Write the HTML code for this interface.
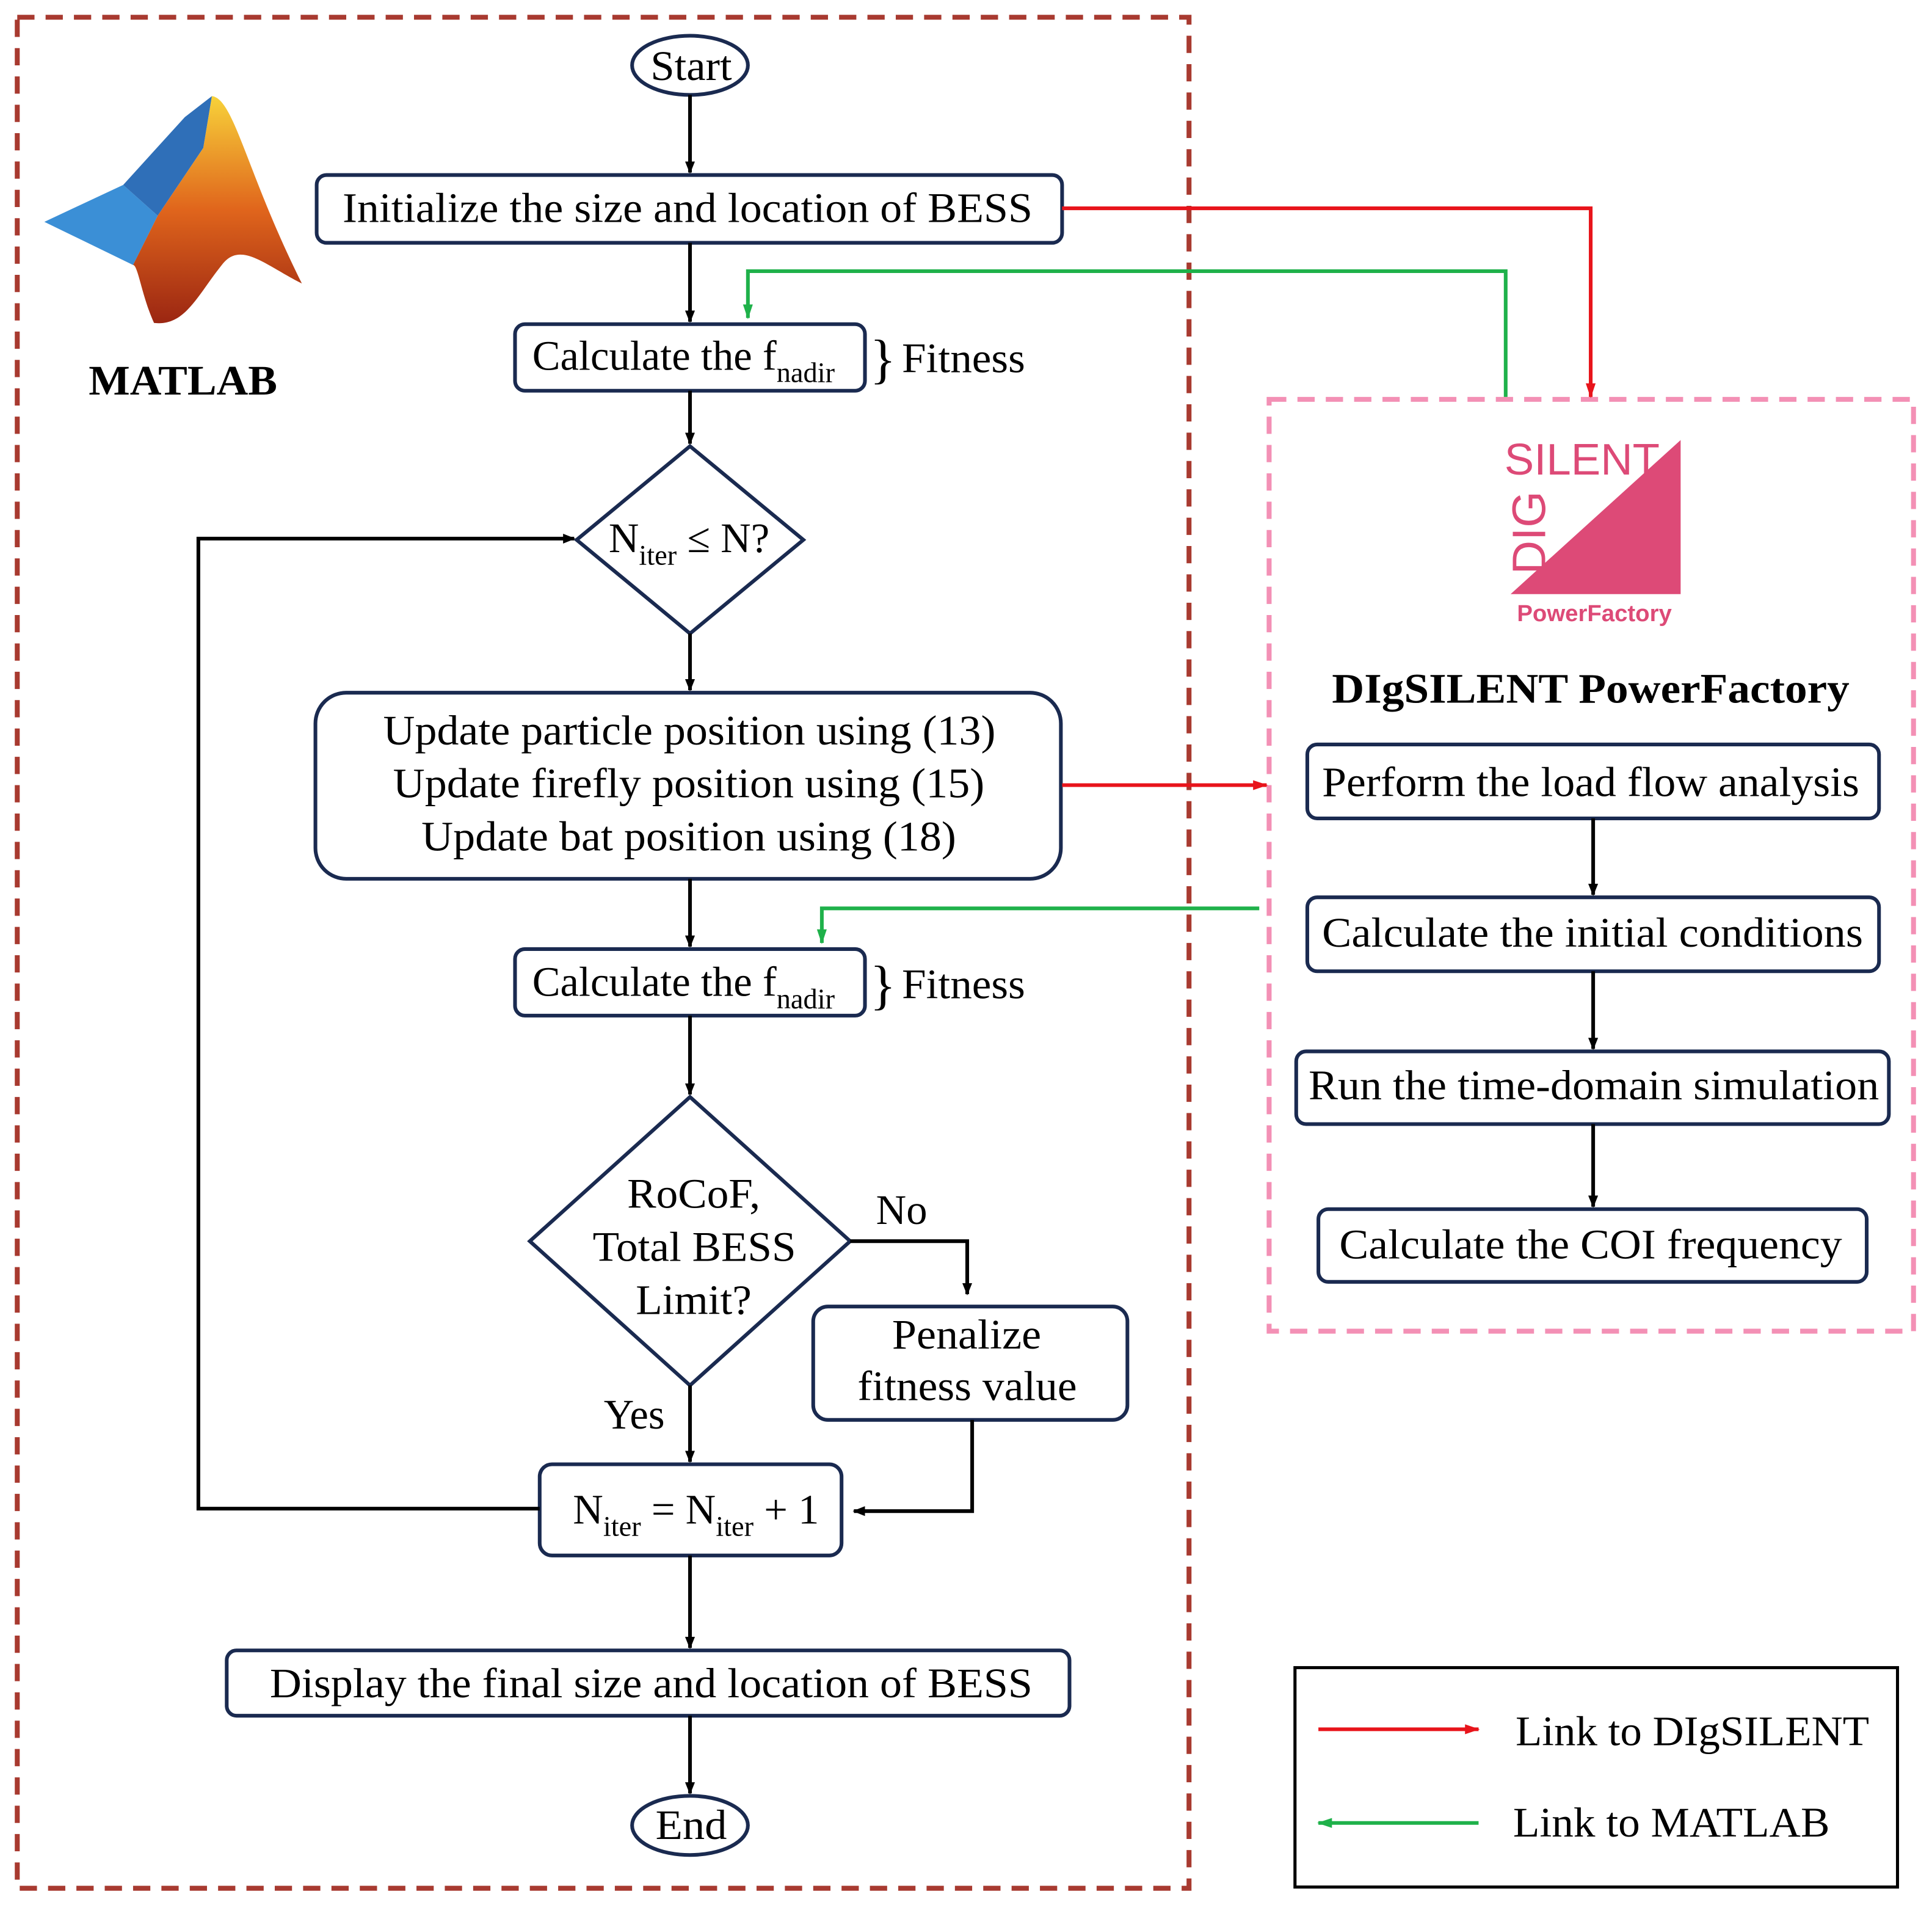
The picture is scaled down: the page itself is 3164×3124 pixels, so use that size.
<!DOCTYPE html>
<html><head><meta charset="utf-8"><style>
html,body{margin:0;padding:0;background:#fff;}
svg{display:block;}
</style></head><body>
<svg width="3164" height="3124" viewBox="0 0 1568 1548" preserveAspectRatio="none" xmlns="http://www.w3.org/2000/svg" font-family="Liberation Serif, serif">
<defs>
<marker id="ak" markerWidth="10" markerHeight="10" refX="9" refY="5" orient="auto" markerUnits="userSpaceOnUse"><path d="M0,1 L10,5 L0,9 z" fill="#000"/></marker>
<marker id="ar" markerWidth="12" markerHeight="10" refX="11" refY="5" orient="auto" markerUnits="userSpaceOnUse"><path d="M0,1 L12,5 L0,9 z" fill="#e8141b"/></marker>
<marker id="ag" markerWidth="12" markerHeight="10" refX="11" refY="5" orient="auto" markerUnits="userSpaceOnUse"><path d="M0,1 L12,5 L0,9 z" fill="#1fb14a"/></marker>
<linearGradient id="mg" x1="0" y1="0" x2="0" y2="1"><stop offset="0" stop-color="#f7d23a"/><stop offset="0.5" stop-color="#e0651c"/><stop offset="1" stop-color="#9b2612"/></linearGradient>
</defs>
<rect x="14" y="14" width="951" height="1518" fill="none" stroke="#a83a30" stroke-width="4" stroke-dasharray="14,9"/>
<rect x="1030" y="324" width="523" height="756" fill="none" stroke="#f390b5" stroke-width="4" stroke-dasharray="14,9"/>

<path d="M36,180 L100,150 L128,175 L108,215 Z" fill="#3b8fd6"/>
<path d="M100,150 L150,95 L172,78 L165,120 L128,175 Z" fill="#2f6fb8"/>
<path d="M172,78 C190,80 200,140 245,230 C215,215 195,195 180,215 C160,240 150,265 125,262 C115,240 112,215 108,215 L128,175 L165,120 Z" fill="url(#mg)"/>
<text x="72" y="320" font-size="34" font-weight="bold" textLength="153" lengthAdjust="spacingAndGlyphs">MATLAB</text>

<g stroke="#1a2a50" stroke-width="3" fill="#fff">
<ellipse cx="560" cy="53" rx="47" ry="24"/>
<rect x="257" y="142" width="605" height="55" rx="8"/>
<rect x="418" y="263" width="284" height="54" rx="8"/>
<polygon points="560,362 652,438 560,514 468,438"/>
<rect x="256" y="562" width="605" height="151" rx="25"/>
<rect x="418" y="770" width="284" height="54" rx="8"/>
<polygon points="560,890 690,1007 560,1124 430,1007"/>
<rect x="660" y="1060" width="255" height="92" rx="12"/>
<rect x="438" y="1188" width="245" height="74" rx="10"/>
<rect x="184" y="1339" width="684" height="53" rx="8"/>
<ellipse cx="560" cy="1481" rx="47" ry="24"/>
<rect x="1061" y="604" width="464" height="60" rx="8"/>
<rect x="1061" y="728" width="464" height="60" rx="8"/>
<rect x="1052" y="853" width="481" height="59" rx="8"/>
<rect x="1070" y="981" width="445" height="59" rx="8"/>
</g>

<g stroke="#000" stroke-width="3" fill="none" marker-end="url(#ak)">
<line x1="560" y1="77" x2="560" y2="140"/>
<line x1="560" y1="197" x2="560" y2="261"/>
<line x1="560" y1="317" x2="560" y2="360"/>
<line x1="560" y1="514" x2="560" y2="560"/>
<line x1="560" y1="713" x2="560" y2="768"/>
<line x1="560" y1="824" x2="560" y2="888"/>
<line x1="560" y1="1124" x2="560" y2="1186"/>
<line x1="560" y1="1262" x2="560" y2="1337"/>
<line x1="560" y1="1392" x2="560" y2="1455"/>
<polyline points="438,1224 161,1224 161,437 466,437"/>
<polyline points="690,1007 785,1007 785,1050"/>
<polyline points="789,1152 789,1226 693,1226"/>
<line x1="1293" y1="664" x2="1293" y2="726"/>
<line x1="1293" y1="788" x2="1293" y2="851"/>
<line x1="1293" y1="912" x2="1293" y2="979"/>
</g>
<g stroke-width="3" fill="none">
<polyline points="862,169 1291,169 1291,322" stroke="#e8141b" marker-end="url(#ar)"/>
<line x1="862" y1="637" x2="1028" y2="637" stroke="#e8141b" marker-end="url(#ar)"/>
<polyline points="1222,322 1222,220 607,220 607,258" stroke="#1fb14a" marker-end="url(#ag)"/>
<polyline points="1022,737 667,737 667,765" stroke="#1fb14a" marker-end="url(#ag)"/>
</g>

<g font-size="34" fill="#000" lengthAdjust="spacingAndGlyphs">
<text x="528" y="65" textLength="66" lengthAdjust="spacingAndGlyphs">Start</text>
<text x="278" y="180" textLength="560" lengthAdjust="spacingAndGlyphs">Initialize the size and location of BESS</text>
<text x="432" y="300">Calculate the f<tspan font-size="23" dy="10">nadir</tspan></text>
<text x="494" y="448">N<tspan font-size="23" dy="10">iter</tspan><tspan dy="-10"> ≤ N?</tspan></text>
<text x="311" y="604" textLength="497" lengthAdjust="spacingAndGlyphs">Update particle position using (13)</text>
<text x="319" y="647" textLength="480" lengthAdjust="spacingAndGlyphs">Update firefly position using (15)</text>
<text x="342" y="690" textLength="434" lengthAdjust="spacingAndGlyphs">Update bat position using (18)</text>
<text x="432" y="808">Calculate the f<tspan font-size="23" dy="10">nadir</tspan></text>
<text x="509" y="980" textLength="108" lengthAdjust="spacingAndGlyphs">RoCoF,</text>
<text x="481" y="1023" textLength="165" lengthAdjust="spacingAndGlyphs">Total BESS</text>
<text x="516" y="1066" textLength="94" lengthAdjust="spacingAndGlyphs">Limit?</text>
<text x="724" y="1094" textLength="121" lengthAdjust="spacingAndGlyphs">Penalize</text>
<text x="696" y="1136" textLength="178" lengthAdjust="spacingAndGlyphs">fitness value</text>
<text x="465" y="1236">N<tspan font-size="23" dy="10">iter</tspan><tspan dy="-10"> = N</tspan><tspan font-size="23" dy="10">iter</tspan><tspan dy="-10"> + 1</tspan></text>
<text x="219" y="1377" textLength="619" lengthAdjust="spacingAndGlyphs">Display the final size and location of BESS</text>
<text x="532" y="1492" textLength="58" lengthAdjust="spacingAndGlyphs">End</text>
<text x="1073" y="646" textLength="436" lengthAdjust="spacingAndGlyphs">Perform the load flow analysis</text>
<text x="1073" y="768" textLength="439" lengthAdjust="spacingAndGlyphs">Calculate the initial conditions</text>
<text x="1062" y="892" textLength="463" lengthAdjust="spacingAndGlyphs">Run the time-domain simulation</text>
<text x="1087" y="1021" textLength="408" lengthAdjust="spacingAndGlyphs">Calculate the COI frequency</text>
<text x="1081" y="570" font-weight="bold" textLength="420" lengthAdjust="spacingAndGlyphs">DIgSILENT  PowerFactory</text>
<text x="706" y="306" font-size="44">}</text>
<text x="732" y="302" textLength="100" lengthAdjust="spacingAndGlyphs">Fitness</text>
<text x="706" y="814" font-size="44">}</text>
<text x="732" y="810" textLength="100" lengthAdjust="spacingAndGlyphs">Fitness</text>
<text x="711" y="993">No</text>
<text x="490" y="1159">Yes</text>
<text x="1230" y="1416" textLength="287" lengthAdjust="spacingAndGlyphs">Link to DIgSILENT</text>
<text x="1228" y="1490" textLength="257" lengthAdjust="spacingAndGlyphs">Link to MATLAB</text>
</g>

<polygon points="1364,357 1364,482 1226,482" fill="#dd4a77"/>
<text x="1221" y="385" style="font-family:'Liberation Sans',sans-serif;font-size:36px;fill:#dd4a77">SILENT</text>
<text transform="translate(1254,466) rotate(-90)" style="font-family:'Liberation Sans',sans-serif;font-size:38px;fill:#dd4a77">DIG</text>
<text x="1294" y="504" text-anchor="middle" style="font-family:'Liberation Sans',sans-serif;font-size:19px;font-weight:bold;fill:#dd4a77">PowerFactory</text>

<rect x="1051" y="1353" width="489" height="178" fill="none" stroke="#000" stroke-width="2.5"/>
<line x1="1070" y1="1403" x2="1200" y2="1403" stroke="#e8141b" stroke-width="3" marker-end="url(#ar)"/>
<line x1="1200" y1="1479" x2="1070" y2="1479" stroke="#1fb14a" stroke-width="3" marker-end="url(#ag)"/>
</svg>
</body></html>
